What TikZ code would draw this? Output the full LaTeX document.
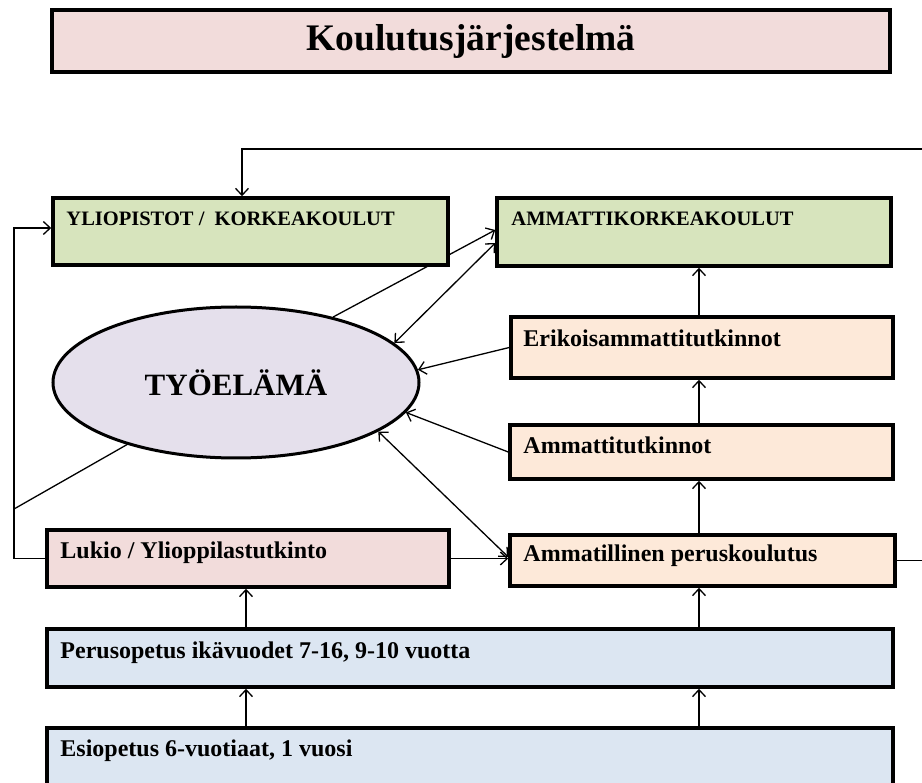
\documentclass[tikz,border=0pt]{standalone}
\usepackage{fontspec}
\setmainfont{Liberation Serif}
\usetikzlibrary{arrows.meta,positioning,shapes.geometric,backgrounds}

\definecolor{pinkbox}{HTML}{F2DCDB}
\definecolor{greenbox}{HTML}{D7E4BD}
\definecolor{peachbox}{HTML}{FDE9D9}
\definecolor{bluebox}{HTML}{DCE6F2}
\definecolor{lilac}{HTML}{E5E0EC}

\begin{document}
\begin{tikzpicture}[x=1pt,y=1pt,yscale=-1,xscale=1,
  >={Straight Barb[length=7pt,width=13pt]},
  box/.style={draw, rectangle, line width=3.5pt, inner sep=0pt},
  txt/.style={anchor=base west, inner sep=0pt, font=\fontsize{24}{28}\selectfont\bfseries},
  capstxt/.style={anchor=base west, inner sep=0pt, font=\fontsize{20.5}{24}\selectfont\bfseries},
  conn/.style={line width=1.3pt}]
\useasboundingbox (0,0) rectangle (922,783);

%Shape: Rectangle title
\node [box, fill=pinkbox, minimum width=838, minimum height=62] (title) at (471,41) {\fontsize{37.5}{42}\selectfont\bfseries Koulutusjärjestelmä};
%Shape: Rectangle row 1
\node [box, fill=greenbox, minimum width=395, minimum height=67] (yo) at (250.5,231.5) {};
\node [box, fill=greenbox, minimum width=394, minimum height=68] (amk) at (694,232) {};
%Shape: Ellipse
\node [ellipse, draw, line width=3pt, fill=lilac, minimum width=366, minimum height=151, inner sep=0pt] (ty) at (236,382.5) {\fontsize{31}{36}\selectfont\bfseries TYÖELÄMÄ};
%Shape: Rectangle right column
\node [box, fill=peachbox, minimum width=382, minimum height=61] (eri) at (702,347.5) {};
\node [box, fill=peachbox, minimum width=383, minimum height=54] (amt) at (701.5,452) {};
\node [box, fill=peachbox, minimum width=385, minimum height=51] (amp) at (702.5,560.5) {};
%Shape: Rectangle left and bottom
\node [box, fill=pinkbox, minimum width=402, minimum height=57] (luk) at (248,558.5) {};
\node [box, fill=bluebox, minimum width=846, minimum height=58] (per) at (470,658) {};
\node [box, fill=bluebox, minimum width=846, minimum height=74] (esi) at (470,765) {};

% Text Node
\node [capstxt] (yot) at ([xshift=15pt,yshift=29pt]yo.north west) {YLIOPISTOT /\ \ KORKEAKOULUT};
% Text Node
\node [capstxt] (amkt) at ([xshift=16pt,yshift=29pt]amk.north west) {AMMATTIKORKEAKOULUT};
% Text Node
\node [txt] (erit) at ([xshift=14pt,yshift=31pt]eri.north west) {Erikoisammattitutkinnot};
% Text Node
\node [txt] (amtt) at ([xshift=15pt,yshift=30pt]amt.north west) {Ammattitutkinnot};
% Text Node
\node [txt] (ampt) at ([xshift=15pt,yshift=28pt]amp.north west) {Ammatillinen peruskoulutus};
% Text Node
\node [txt] (lukt) at ([xshift=15pt,yshift=30pt]luk.north west) {Lukio / Ylioppilastutkinto};
% Text Node
\node [txt] (pert) at ([xshift=15pt,yshift=31pt]per.north west) {Perusopetus ikävuodet 7-16, 9-10 vuotta};
% Text Node
\node [txt] (esit) at ([xshift=15pt,yshift=30pt]esi.north west) {Esiopetus 6-vuotiaat, 1 vuosi};

\coordinate (vl) at (246,0);
\coordinate (vr) at (699,0);
\coordinate (lj) at (14,509);
\coordinate (topr) at (950,149);

%Straight Lines up the columns
\draw [conn,->] (amp.north -| vr) -- (amt.south -| vr);
\draw [conn,->] (amt.north -| vr) -- (eri.south -| vr);
\draw [conn,->] (eri.north -| vr) -- (amk.south -| vr);
\draw [conn,->] (per.north -| vr) -- (amp.south -| vr);
\draw [conn,->] (per.north -| vl) -- (luk.south -| vl);
\draw [conn,->] (esi.north -| vl) -- (per.south -| vl);
\draw [conn,->] (esi.north -| vr) -- (per.south -| vr);
%Straight Lines to and from TYÖELÄMÄ
\draw [conn,->] (luk.east) -- (luk.east -| amp.west);
\draw [conn,<->] (ty.-19) -- ([yshift=-3.5pt]amp.west);
\draw [conn,->] (amt.west) -- (ty.-10);
\draw [conn,->] (eri.west) -- (ty.4);
\draw [conn,<->] ([yshift=11pt]amk.west) -- (ty.14);
\begin{scope}[on background layer]
\draw [conn,->] (ty.34) -- ([yshift=-2pt]amk.west);
\end{scope}
%Loops
\draw [conn,->] (luk.west) -| (lj) |- ([yshift=-3.5pt]yo.west);
\draw [conn] (lj) -- (ty);
\draw [conn,->] (amp.east) -| (topr) -| ([xshift=-8.5pt]yo.north);

\end{tikzpicture}
\end{document}
